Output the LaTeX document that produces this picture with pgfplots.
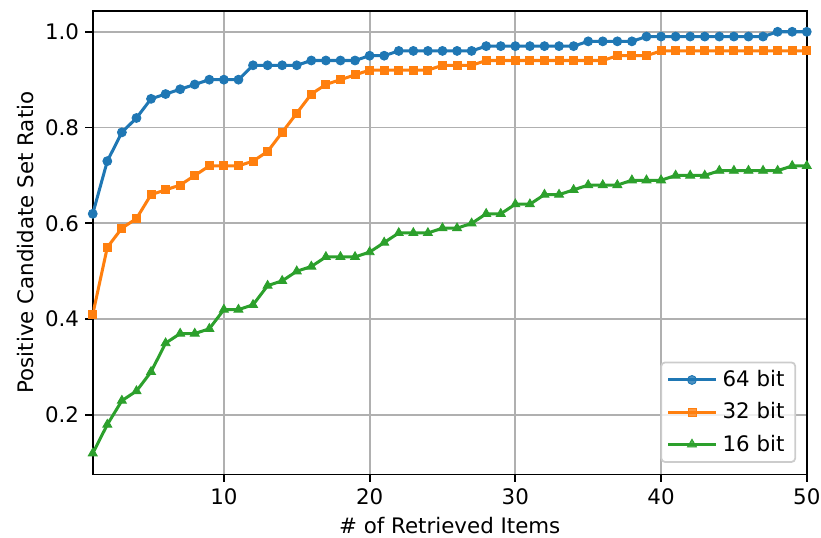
\documentclass[border=0pt]{standalone}
\usepackage{pgfplots}
\pgfplotsset{compat=1.18}
\usepackage{fontspec}
\setmainfont{DejaVu Sans}
\definecolor{c64}{HTML}{1F77B4}
\definecolor{c32}{HTML}{FF7F0E}
\definecolor{c16}{HTML}{2CA02C}
\definecolor{gridgray}{RGB}{176,176,176}
\definecolor{legedge}{RGB}{204,204,204}
\begin{document}
\begin{tikzpicture}
\begin{axis}[
  scale only axis,
  width=401.1pt, height=260.5pt,
  xmin=1, xmax=50, ymin=0.076, ymax=1.044,
  xtick={10,20,30,40,50},
  ytick={0.2,0.4,0.6,0.8,1.0},
  yticklabel style={/pgf/number format/.cd, fixed, fixed zerofill, precision=1},
  /pgf/number format/assume math mode=true,
  ticklabel style={font=\fontsize{12}{14}\selectfont},
  label style={font=\fontsize{12}{14}\selectfont},
  tick align=outside, major tick length=4.2pt,
  every tick/.style={black, line width=1pt},
  xtick pos=bottom, ytick pos=left,
  axis line style={line width=1pt, black},
  grid=major,
  major grid style={gridgray, line width=1pt},
  xlabel={\# of Retrieved Items},
  ylabel={Positive Candidate Set Ratio},
  xlabel style={at={(axis description cs:0.5,0)}, anchor=center, yshift=-29pt},
  ylabel style={at={(axis description cs:-0.0947,0.5)}, anchor=center},
  legend style={at={(0.985,0.025)}, anchor=south east,
    draw=legedge, line width=1pt, rounded corners=2pt, fill=white, fill opacity=0.8, text opacity=1,
    font=\fontsize{12}{14}\selectfont, row sep=1.5pt, inner xsep=3pt, inner ysep=1.5pt,
    nodes={inner sep=3pt}},
  legend cell align=left,
  legend image code/.code={\draw[mark repeat=2, mark phase=2] plot coordinates {(0cm,0cm) (0.47cm,0cm) (0.94cm,0cm)};},
]
\addplot[c64, line width=1.7pt, mark=*, mark size=2.5pt, mark options={solid, fill=c64, draw=c64, line width=0.5pt}] coordinates {
(1,0.62)(2,0.73)(3,0.79)(4,0.82)(5,0.86)(6,0.87)(7,0.88)(8,0.89)(9,0.90)(10,0.90)
(11,0.90)(12,0.93)(13,0.93)(14,0.93)(15,0.93)(16,0.94)(17,0.94)(18,0.94)(19,0.94)(20,0.95)
(21,0.95)(22,0.96)(23,0.96)(24,0.96)(25,0.96)(26,0.96)(27,0.96)(28,0.97)(29,0.97)(30,0.97)
(31,0.97)(32,0.97)(33,0.97)(34,0.97)(35,0.98)(36,0.98)(37,0.98)(38,0.98)(39,0.99)(40,0.99)
(41,0.99)(42,0.99)(43,0.99)(44,0.99)(45,0.99)(46,0.99)(47,0.99)(48,1.00)(49,1.00)(50,1.00)
};
\addlegendentry{64 bit}
\addplot[c32, line width=1.7pt, mark=square*, mark size=2.25pt, mark options={solid, fill=c32, draw=c32, line width=0.5pt}] coordinates {
(1,0.41)(2,0.55)(3,0.59)(4,0.61)(5,0.66)(6,0.67)(7,0.68)(8,0.70)(9,0.72)(10,0.72)
(11,0.72)(12,0.73)(13,0.75)(14,0.79)(15,0.83)(16,0.87)(17,0.89)(18,0.90)(19,0.91)(20,0.92)
(21,0.92)(22,0.92)(23,0.92)(24,0.92)(25,0.93)(26,0.93)(27,0.93)(28,0.94)(29,0.94)(30,0.94)
(31,0.94)(32,0.94)(33,0.94)(34,0.94)(35,0.94)(36,0.94)(37,0.95)(38,0.95)(39,0.95)(40,0.96)
(41,0.96)(42,0.96)(43,0.96)(44,0.96)(45,0.96)(46,0.96)(47,0.96)(48,0.96)(49,0.96)(50,0.96)
};
\addlegendentry{32 bit}
\addplot[c16, line width=1.7pt, mark=triangle*, mark size=2.9pt, mark options={solid, fill=c16, draw=c16, line width=0.5pt}] coordinates {
(1,0.12)(2,0.18)(3,0.23)(4,0.25)(5,0.29)(6,0.35)(7,0.37)(8,0.37)(9,0.38)(10,0.42)
(11,0.42)(12,0.43)(13,0.47)(14,0.48)(15,0.50)(16,0.51)(17,0.53)(18,0.53)(19,0.53)(20,0.54)
(21,0.56)(22,0.58)(23,0.58)(24,0.58)(25,0.59)(26,0.59)(27,0.60)(28,0.62)(29,0.62)(30,0.64)
(31,0.64)(32,0.66)(33,0.66)(34,0.67)(35,0.68)(36,0.68)(37,0.68)(38,0.69)(39,0.69)(40,0.69)
(41,0.70)(42,0.70)(43,0.70)(44,0.71)(45,0.71)(46,0.71)(47,0.71)(48,0.71)(49,0.72)(50,0.72)
};
\addlegendentry{16 bit}
\end{axis}
\path (current axis.south west) ++(-52.1pt,-35.2pt) coordinate (bbA);
\path (current axis.north east) ++(8.0pt,6.0pt) coordinate (bbB);
\pgfresetboundingbox
\useasboundingbox (bbA) rectangle (bbB);
\end{tikzpicture}
\end{document}
